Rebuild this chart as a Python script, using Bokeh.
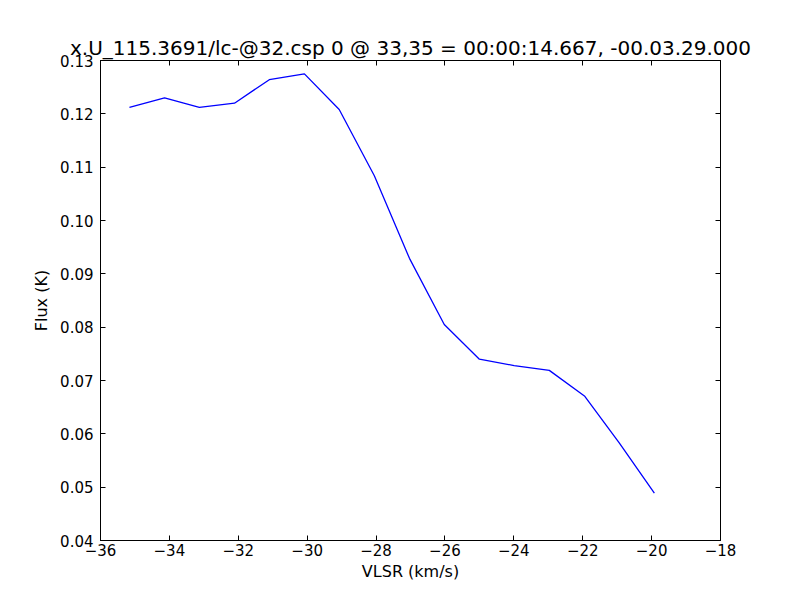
from bokeh.plotting import figure
from bokeh.models import LinearAxis, FixedTicker, CustomJSTickFormatter, Range1d
from bokeh.embed import file_html
from bokeh.resources import INLINE

vlsr = [-35.16, -34.14, -33.13, -32.11, -31.10, -30.08, -29.07, -28.05,
        -27.03, -26.02, -25.00, -23.99, -22.97, -21.95, -20.94, -19.92]
flux = [0.1212, 0.1230, 0.1212, 0.1220, 0.1264, 0.1275, 0.1208, 0.1084,
        0.0929, 0.0805, 0.0740, 0.0728, 0.0719, 0.0671, 0.0583, 0.0489]
x_ticks = [-36, -34, -32, -30, -28, -26, -24, -22, -20, -18]
y_ticks = [0.04, 0.05, 0.06, 0.07, 0.08, 0.09, 0.10, 0.11, 0.12, 0.13]
title_text = "x.U_115.3691/lc-@32.csp 0 @ 33,35 = 00:00:14.667, -00.03.29.000"

FONT = "DejaVu Sans"

p = figure(width=784, height=584, output_backend="svg", toolbar_location=None,
           x_range=Range1d(-36, -18), y_range=Range1d(0.04, 0.13),
           x_axis_location=None, y_axis_location=None,
           min_border_left=100, min_border_right=64, min_border_top=60, min_border_bottom=44,
           frame_width=620, frame_height=480)
p.background_fill_color = "white"
p.border_fill_color = "white"
p.outline_line_color = "black"
p.outline_line_width = 1
p.xgrid.visible = False
p.ygrid.visible = False

xfmt = CustomJSTickFormatter(code="return tick.toFixed(0).replace('-', '\\u2212');")
yfmt = CustomJSTickFormatter(code="return tick.toFixed(2);")

def style(ax, labels=True):
    ax.major_tick_in = 5
    ax.major_tick_out = 0
    ax.minor_tick_in = 0
    ax.minor_tick_out = 0
    ax.axis_line_color = "black"
    ax.major_tick_line_color = "black"
    ax.major_label_text_font = FONT
    ax.major_label_text_font_size = "15px"
    ax.major_label_text_color = "black"
    ax.axis_label_text_font = FONT
    ax.axis_label_text_font_size = "16px"
    ax.axis_label_text_font_style = "normal"
    ax.axis_label_text_color = "black"
    if not labels:
        ax.major_label_text_color = None
        ax.major_label_text_font_size = "0px"

xb = LinearAxis(ticker=FixedTicker(ticks=x_ticks), formatter=xfmt, axis_label="VLSR (km/s)")
style(xb)
xb.major_label_standoff = 3
xb.axis_label_standoff = 3
yl = LinearAxis(ticker=FixedTicker(ticks=y_ticks), formatter=yfmt, axis_label="Flux (K)")
style(yl)
yl.major_label_standoff = 7
yl.axis_label_standoff = 6
xt = LinearAxis(ticker=FixedTicker(ticks=x_ticks), formatter=xfmt)
style(xt, labels=False)
yr = LinearAxis(ticker=FixedTicker(ticks=y_ticks), formatter=yfmt)
style(yr, labels=False)
p.add_layout(xb, "below")
p.add_layout(yl, "left")
p.add_layout(xt, "above")
p.add_layout(yr, "right")

p.title.text = title_text
p.title.align = "center"
p.title.text_font = FONT
p.title.text_font_size = "20px"
p.title.text_font_style = "normal"
p.title.text_color = "black"
p.title.standoff = 1

p.line(vlsr, flux, line_color="#0000ff", line_width=1.3)

open("out.html", "w").write(file_html(p, INLINE))
